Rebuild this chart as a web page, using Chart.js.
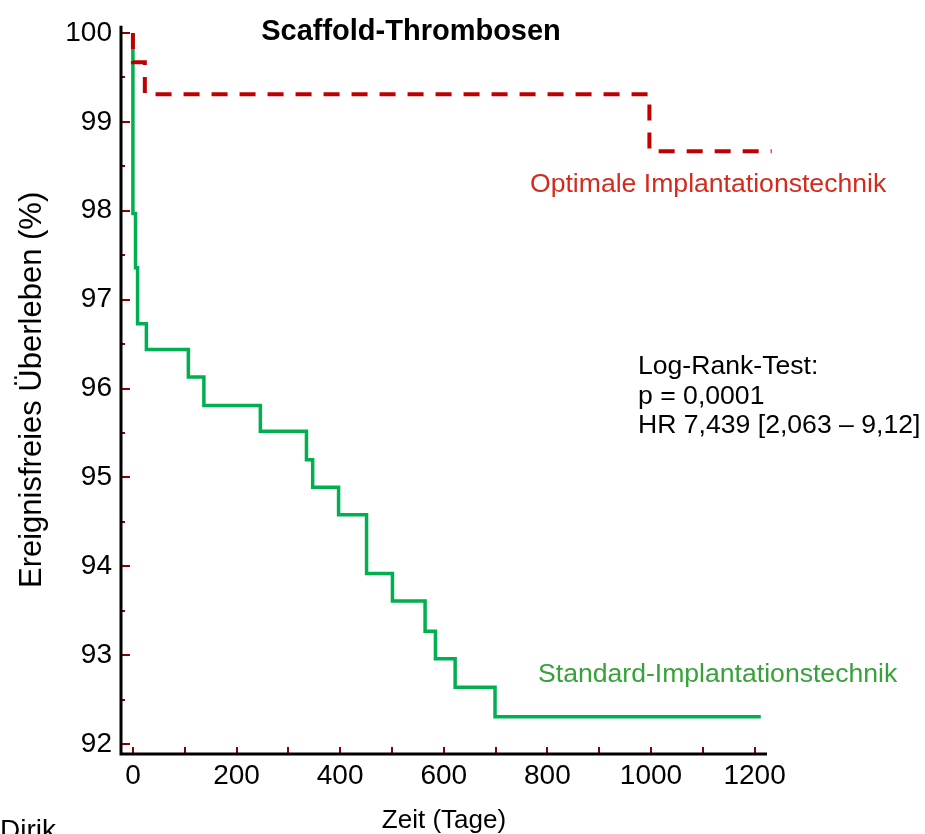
<!DOCTYPE html>
<html lang="de">
<head>
    <meta charset="UTF-8">
    <title>Scaffold-Thrombosen</title>
    <style>
        body {
            margin: 0;
            background: #fff;
        }
        #wrap {
            width: 925px;
            height: 834px;
            overflow: hidden;
        }
    </style>
    <script src="https://cdn.jsdelivr.net/npm/chart.js"></script>
</head>
<body>
    <div id="wrap">
        <canvas id="kmChart" width="925" height="834"></canvas>
    </div>

    <script>
        // Kaplan-Meier data (time in days, survival in %)
        const optTimes = [0, 0, 23, 997, 1233];
        const optSurvival = [100, 99.67, 99.31, 98.67, 98.67];

        const stdTimes = [0, 0, 5, 9, 26, 107, 137, 246, 335, 347, 397, 451, 501, 564, 584, 622, 699, 1212];
        const stdSurvival = [100, 97.97, 97.36, 96.73, 96.44, 96.13, 95.81, 95.52, 95.2, 94.89, 94.58, 93.92, 93.61, 93.27, 92.96, 92.64, 92.31, 92.31];

        // tick values
        const xTickValues = [0, 100, 200, 300, 400, 500, 600, 700, 800, 900, 1000, 1100, 1200];
        const xLabelValues = [0, 200, 400, 600, 800, 1000, 1200];
        const yTickValues = [92, 93, 94, 95, 96, 97, 98, 99, 100];
        const yMinorValues = [92.5, 93.5, 94.5, 95.5, 96.5, 97.5, 98.5, 99.5];

        const FONT = 'Arial, "Liberation Sans", sans-serif';
        const TICK_RED = '#8b0000';

        const toPoints = (xs, ys) => xs.map((x, i) => ({ x: x, y: ys[i] }));

        // axes, inner tick marks and the free texts
        const decorations = {
            id: 'decorations',
            afterDraw(chart) {
                const ctx = chart.ctx;
                const area = chart.chartArea;
                const xs = chart.scales.x;
                const ys = chart.scales.y;
                ctx.save();

                // tick marks (inside)
                ctx.strokeStyle = TICK_RED;
                ctx.lineWidth = 2;
                xTickValues.forEach(v => {
                    const px = Math.round(xs.getPixelForValue(v));
                    ctx.beginPath();
                    ctx.moveTo(px, area.bottom);
                    ctx.lineTo(px, area.bottom - 7);
                    ctx.stroke();
                });
                yTickValues.forEach(v => {
                    const py = Math.round(ys.getPixelForValue(v));
                    ctx.beginPath();
                    ctx.moveTo(area.left, py);
                    ctx.lineTo(area.left + 9, py);
                    ctx.stroke();
                });
                yMinorValues.forEach(v => {
                    const py = Math.round(ys.getPixelForValue(v));
                    ctx.beginPath();
                    ctx.moveTo(area.left, py);
                    ctx.lineTo(area.left + 4, py);
                    ctx.stroke();
                });

                // axis lines
                ctx.strokeStyle = '#000';
                ctx.lineWidth = 3;
                ctx.beginPath();
                ctx.moveTo(area.left, area.top);
                ctx.lineTo(area.left, area.bottom);
                ctx.lineTo(area.right, area.bottom);
                ctx.stroke();

                // texts
                ctx.textBaseline = 'middle';
                ctx.textAlign = 'center';
                ctx.fillStyle = '#000';
                ctx.font = 'bold 29px ' + FONT;
                ctx.fillText('Scaffold-Thrombosen', 411, 32);

                ctx.textAlign = 'left';
                ctx.font = '26.6px ' + FONT;
                ctx.fillStyle = '#d42a1e';
                ctx.fillText('Optimale Implantationstechnik', 530, 185);

                ctx.fillStyle = '#000';
                ctx.fillText('Log-Rank-Test:', 638, 367);
                ctx.fillText('p = 0,0001', 638, 397);
                ctx.fillText('HR 7,439 [2,063 \u2013 9,12]', 638, 426);

                ctx.fillStyle = '#38a23a';
                ctx.fillText('Standard-Implantationstechnik', 538, 675);

                ctx.fillStyle = '#000';
                ctx.textBaseline = 'top';
                ctx.font = '28px ' + FONT;
                ctx.fillText('Dirik', 0, 817);
                ctx.restore();
            }
        };

        const ctx = document.getElementById('kmChart').getContext('2d');
        const kmChart = new Chart(ctx, {
            type: 'line',
            data: {
                datasets: [{
                    label: 'Optimale Implantationstechnik',
                    data: toPoints(optTimes, optSurvival),
                    borderColor: '#c00000',
                    borderWidth: 4,
                    borderDash: [16, 12],
                    borderCapStyle: 'butt',
                    stepped: 'before',
                    pointRadius: 0,
                    fill: false,
                    clip: false
                }, {
                    label: 'Standard-Implantationstechnik',
                    data: toPoints(stdTimes, stdSurvival),
                    borderColor: '#00b050',
                    borderWidth: 3.5,
                    stepped: 'before',
                    pointRadius: 0,
                    fill: false,
                    clip: false
                }]
            },
            options: {
                responsive: false,
                animation: false,
                layout: {
                    padding: { left: 0, top: 25, right: 158, bottom: 0 }
                },
                plugins: {
                    legend: { display: false },
                    tooltip: { enabled: false }
                },
                scales: {
                    x: {
                        type: 'linear',
                        min: -23,
                        max: 1224,
                        grid: { display: false, drawTicks: false },
                        border: { display: false },
                        afterBuildTicks: scale => {
                            scale.ticks = xTickValues.map(v => ({ value: v }));
                        },
                        afterFit: scale => { scale.height = 80; },
                        ticks: {
                            autoSkip: false,
                            maxRotation: 0,
                            padding: 5,
                            color: '#000',
                            font: { family: FONT, size: 28 },
                            callback: v => xLabelValues.includes(v) ? String(v) : ''
                        },
                        title: {
                            display: true,
                            text: 'Zeit (Tage)',
                            color: '#000',
                            font: { family: FONT, size: 26, lineHeight: 1 },
                            padding: { top: 0, bottom: 0 }
                        }
                    },
                    y: {
                        min: 91.89,
                        max: 100.08,
                        grid: { display: false, drawTicks: false },
                        border: { display: false },
                        afterBuildTicks: scale => {
                            scale.ticks = yTickValues.map(v => ({ value: v }));
                        },
                        afterFit: scale => { scale.width = 121; },
                        ticks: {
                            autoSkip: false,
                            padding: 9,
                            color: '#000',
                            font: { family: FONT, size: 28 }
                        },
                        title: {
                            display: true,
                            text: 'Ereignisfreies Überleben (%)',
                            color: '#000',
                            font: { family: FONT, size: 31, lineHeight: 1 },
                            padding: { top: 17, bottom: 0 }
                        }
                    }
                }
            },
            plugins: [decorations]
        });
    </script>
</body>
</html>
